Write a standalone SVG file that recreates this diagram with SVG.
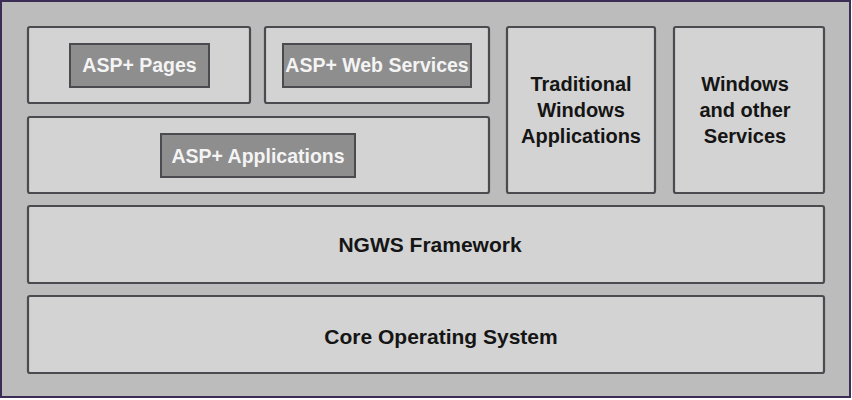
<svg xmlns="http://www.w3.org/2000/svg" width="852" height="400" viewBox="0 0 852 400">
<style>
.box{fill:#d3d3d3;stroke:#4a4a4f;stroke-width:2.2}
.inner{fill:#8e8e8e;stroke:#4a4a4f;stroke-width:2}
.t{font-family:"Liberation Sans",Arial,sans-serif;font-weight:bold;font-size:20px;text-anchor:middle;fill:#151515}
.w{fill:#f4f4f4;font-size:19.5px}
.big{font-size:21px}
</style>
<rect x="1" y="1" width="849" height="396" fill="#bcbcbc" stroke="#3b2d55" stroke-width="2"/>
<g id="asp-pages">
<rect class="box" x="28" y="27" width="222" height="76" rx="2"/>
<rect class="inner" x="70" y="44" width="139" height="43"/>
<text class="t w" x="139.5" y="72">ASP+ Pages</text>
</g>
<g id="asp-web-services">
<rect class="box" x="265" y="27" width="224" height="76" rx="2"/>
<rect class="inner" x="283" y="44" width="188" height="43"/>
<text class="t w" x="377" y="72">ASP+ Web Services</text>
</g>
<g id="asp-applications">
<rect class="box" x="28" y="117" width="461" height="76" rx="2"/>
<rect class="inner" x="161" y="134" width="194" height="43"/>
<text class="t w" x="258" y="163">ASP+ Applications</text>
</g>
<g id="traditional-windows">
<rect class="box" x="507" y="27" width="148" height="166" rx="2"/>
<text class="t" x="581" y="91">Traditional</text>
<text class="t" x="581" y="117">Windows</text>
<text class="t" x="581" y="143">Applications</text>
</g>
<g id="windows-services">
<rect class="box" x="674" y="27" width="150" height="166" rx="2"/>
<text class="t" x="745" y="91">Windows</text>
<text class="t" x="745" y="117">and other</text>
<text class="t" x="745" y="143">Services</text>
</g>
<g id="ngws-framework">
<rect class="box" x="28" y="206" width="796" height="77" rx="2"/>
<text class="t big" x="430" y="252">NGWS Framework</text>
</g>
<g id="core-os">
<rect class="box" x="28" y="296" width="796" height="77" rx="2"/>
<text class="t big" x="441" y="344">Core Operating System</text>
</g>
<g id="connectors"/>
</svg>
